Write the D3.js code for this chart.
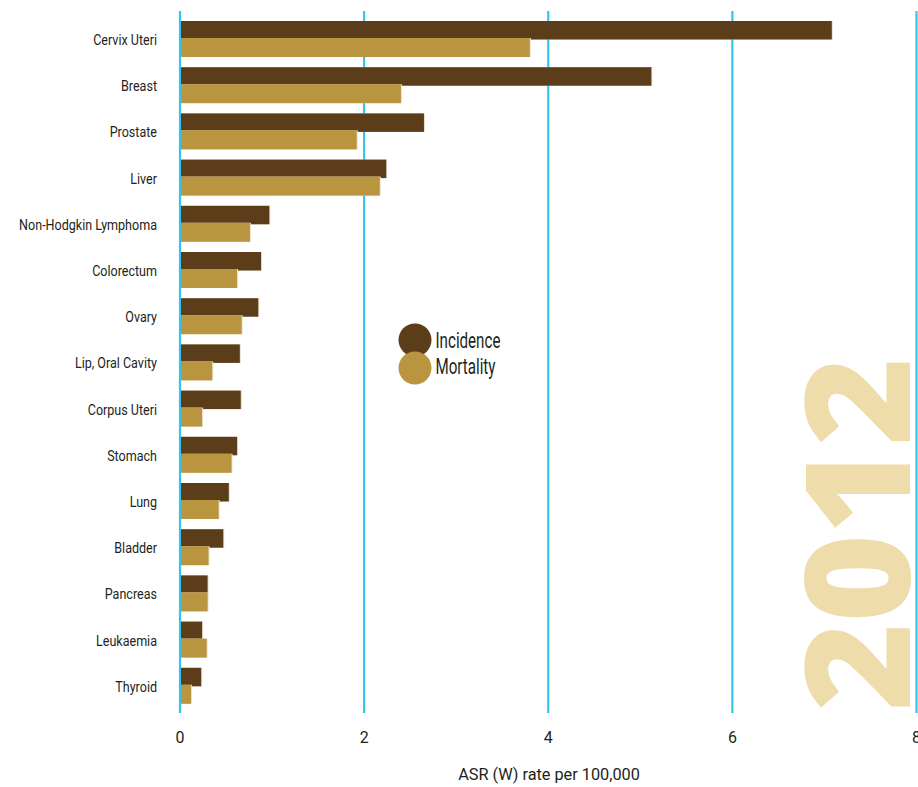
<!DOCTYPE html>
<html>
<head>
<meta charset="utf-8">
<script src="https://cdn.jsdelivr.net/npm/d3@7"></script>
<style>
  html, body { margin: 0; padding: 0; background: #fff; }
  svg { display: block; }
  .lbl { font-family: Roboto, "Noto Sans", sans-serif; fill: #231f20; }
</style>
</head>
<body>
<svg id="chart" width="918" height="787"></svg>
<script>
// Cancer sites, ordered by incidence
const categories = [
  "Cervix Uteri", "Breast", "Prostate", "Liver", "Non-Hodgkin Lymphoma",
  "Colorectum", "Ovary", "Lip, Oral Cavity", "Corpus Uteri", "Stomach",
  "Lung", "Bladder", "Pancreas", "Leukaemia", "Thyroid"
];
// ASR (W) per 100,000
const incidence = [7.08, 5.12, 2.65, 2.24, 0.97, 0.88, 0.85, 0.65, 0.66, 0.62, 0.53, 0.47, 0.30, 0.24, 0.23];
const mortality = [3.80, 2.40, 1.92, 2.17, 0.76, 0.62, 0.67, 0.35, 0.24, 0.56, 0.42, 0.31, 0.30, 0.29, 0.12];
const xTicks = [0, 2, 4, 6, 8];
const seriesNames = ["Incidence", "Mortality"];
const yearLabel = "2012";
const axisTitle = "ASR (W) rate per 100,000";

const colors = { Incidence: "#5b3e19", Mortality: "#b9953f" };

const svg = d3.select("#chart");

const x = d3.scaleLinear().domain([0, 8]).range([180, 916.5]);
const y = d3.scaleBand().domain(categories).range([21, 21 + categories.length * 46.2]).paddingInner(0);

// Condensed look: squeeze a text group horizontally so that a reference string
// reaches a given width.
function condense(sel, refWidth, refNode) {
  const w = refNode.getComputedTextLength();
  const k = refWidth / w;
  sel.each(function () {
    const t = d3.select(this);
    const px = +t.attr("x"), py = +t.attr("y");
    t.attr("transform", `translate(${px},${py}) scale(${k},1)`).attr("x", 0).attr("y", 0);
  });
}

// watermark year
svg.append("text")
  .attr("transform", "translate(910,534) rotate(-90)")
  .attr("text-anchor", "middle")
  .attr("font-family", "'Open Sans', 'DejaVu Sans', sans-serif")
  .attr("font-weight", 800)
  .attr("font-size", 145)
  .attr("textLength", 354)
  .attr("lengthAdjust", "spacingAndGlyphs")
  .attr("fill", "#eedcab")
  .text(yearLabel);

// vertical gridlines
svg.append("g").selectAll("line").data(xTicks).join("line")
  .attr("x1", d => x(d)).attr("x2", d => x(d))
  .attr("y1", 11).attr("y2", 713)
  .attr("stroke", "#35c3f1").attr("stroke-width", 2.2);

const rows = categories.map((c, i) => ({ c, inc: incidence[i], mort: mortality[i] }));
const g = svg.append("g");

// faint edge shadow behind bars
g.selectAll("rect.si").data(rows).join("rect")
  .attr("x", x(0) + 1).attr("y", d => y(d.c))
  .attr("width", d => x(d.inc) - x(0)).attr("height", 18.5)
  .attr("fill", "#e6dccb");
g.selectAll("rect.inc").data(rows).join("rect")
  .attr("x", x(0) + 1).attr("y", d => y(d.c))
  .attr("width", d => x(d.inc) - x(0) - 1).attr("height", 18.5)
  .attr("fill", colors.Incidence);
g.selectAll("rect.sm").data(rows).join("rect")
  .attr("x", x(0) + 1).attr("y", d => y(d.c) + 17)
  .attr("width", d => x(d.mort) - x(0)).attr("height", 19)
  .attr("fill", "#ede3cf");
g.selectAll("rect.mort").data(rows).join("rect")
  .attr("x", x(0) + 1).attr("y", d => y(d.c) + 17)
  .attr("width", d => x(d.mort) - x(0) - 1).attr("height", 19)
  .attr("fill", colors.Mortality);

// category labels
const catLabels = svg.append("g").selectAll("text").data(categories).join("text")
  .attr("class", "lbl")
  .attr("x", 157).attr("y", d => y(d) + 24)
  .attr("text-anchor", "end")
  .attr("font-size", 14.5)
  .text(d => d);
condense(catLabels, 138, catLabels.filter(d => d === "Non-Hodgkin Lymphoma").node());

// x tick labels
const tickLabels = svg.append("g").selectAll("text").data(xTicks).join("text")
  .attr("class", "lbl")
  .attr("x", d => x(d)).attr("y", 743)
  .attr("text-anchor", "middle")
  .attr("font-size", 16.5)
  .text(d => d);
condense(tickLabels, 9, tickLabels.node());

const title = svg.append("text")
  .attr("class", "lbl")
  .attr("x", 549).attr("y", 780)
  .attr("text-anchor", "middle")
  .attr("font-size", 16.5)
  .text(axisTitle);
condense(title, 182, title.node());

// legend
const leg = svg.append("g");
seriesNames.forEach((s, i) => {
  leg.append("circle")
    .attr("cx", 415).attr("cy", 340 + i * 28).attr("r", 16.5)
    .attr("fill", colors[s]);
});
const legText = leg.selectAll("text").data(seriesNames).join("text")
  .attr("class", "lbl")
  .attr("x", 435.5).attr("y", (d, i) => 347.5 + i * 26.5)
  .attr("font-size", 22.5)
  .text(d => d);
condense(legText, 65, legText.node());
</script>
</body>
</html>
